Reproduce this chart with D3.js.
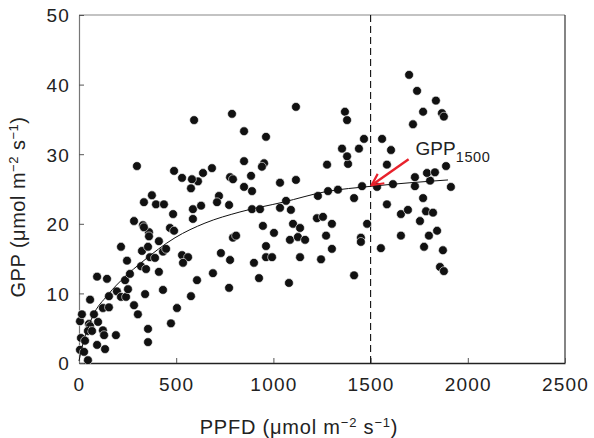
<!DOCTYPE html>
<html>
<head>
<meta charset="utf-8">
<script src="https://cdn.jsdelivr.net/npm/d3@7"></script>
<style>
  body { margin: 0; background: #fff; }
  svg { font-family: "Liberation Sans", Arial, sans-serif; }
</style>
</head>
<body>
<svg id="chart" width="594" height="438"></svg>
<script>
const ppfd = [5, 26, 46, 10, 31, 5, 15, 51, 57, 46, 67, 77, 98, 57, 93, 134, 123, 129, 190, 93,
  144, 123, 154, 154, 195, 216, 242, 252, 237, 262, 283, 303, 340, 355, 355, 432, 473, 504, 576, 607,
  319, 345, 411, 247, 216, 324, 355, 365, 391, 411, 432, 448, 530, 561, 535, 360, 360, 329, 334, 283,
  468, 489, 484, 586, 586, 628, 689, 730, 777, 772, 792, 808, 900, 926, 946, 1003, 962, 962, 993, 1080,
  1101, 1137, 1085, 1126, 1163, 1137, 1224, 1255, 1245, 1271, 1301, 1301, 1415, 1450, 1450, 1482, 1553, 1656, 1656, 1692,
  1754, 1785, 1821, 1800, 1842, 1775, 1872, 1857, 1877, 1584, 1770, 1415, 1913, 1229, 1281, 1332, 1456, 1533, 1615, 1728,
  1728, 1806, 1790, 1831, 1888, 1584, 1384, 1276, 1379, 1353, 1440, 1605, 1466, 1559, 1368, 1379, 1698, 1739, 1836, 1770,
  1867, 1877, 1718, 1116, 1116, 1034, 1065, 1034, 1090, 890, 931, 849, 890, 885, 777, 792, 849, 952, 941, 962,
  849, 787, 720, 710, 772, 684, 638, 612, 581, 576, 530, 489, 592, 298, 375, 334, 396, 437];
const gpp = [1.9, 1.6, 0.4, 3.6, 3.2, 6.0, 7.0, 5.6, 5.3, 4.6, 4.6, 7.0, 5.9, 9.1, 2.6, 2.0, 4.7, 4.0, 4.0, 12.4,
  12.1, 7.9, 9.6, 8.0, 10.3, 9.5, 9.5, 10.6, 11.9, 12.8, 8.3, 7.0, 9.9, 4.9, 3.0, 10.5, 5.7, 7.9, 9.6, 11.9,
  13.9, 13.5, 13.1, 14.7, 16.7, 16.1, 16.7, 15.2, 15.1, 17.5, 16.0, 16.4, 15.5, 15.2, 14.4, 18.8, 18.2, 19.8, 19.5, 20.4,
  19.4, 19.0, 21.4, 20.7, 22.1, 22.6, 12.9, 15.8, 14.8, 10.8, 18.0, 18.3, 14.4, 12.2, 19.7, 18.7, 16.8, 15.2, 15.2, 11.5,
  20.0, 19.4, 17.7, 18.1, 17.7, 15.2, 20.8, 21.0, 14.9, 18.3, 20.0, 16.4, 12.6, 18.0, 17.4, 20.0, 16.5, 18.3, 21.4, 22.0,
  20.4, 21.8, 21.6, 18.3, 19.0, 16.7, 16.2, 13.8, 13.2, 22.8, 23.7, 23.7, 25.3, 24.0, 24.7, 24.9, 25.4, 25.3, 25.7, 25.4,
  26.7, 26.2, 27.3, 27.4, 28.3, 28.5, 28.6, 28.5, 29.7, 30.8, 30.8, 30.6, 32.2, 32.2, 36.1, 34.9, 41.4, 39.1, 37.7, 36.1,
  35.9, 35.4, 34.3, 26.3, 36.8, 25.9, 23.3, 22.3, 22.0, 22.1, 22.1, 25.3, 24.7, 26.9, 26.7, 26.4, 29.0, 28.7, 28.2, 32.5,
  33.3, 35.8, 24.0, 23.1, 22.7, 28.0, 27.3, 26.1, 26.4, 25.1, 26.6, 27.6, 34.9, 28.3, 24.1, 23.1, 22.8, 22.8];

// fitted light-response curve, sampled from the figure
const curvePpfd = [0, 15, 67, 149, 237, 324, 494, 648, 828, 1049, 1266, 1507, 1898];
const curveGpp = [0.3, 2.2, 6.5, 9.8, 12.4, 14.5, 18.0, 20.1, 21.7, 23.1, 24.6, 25.4, 26.3];

const xTicks = [0, 500, 1000, 1500, 2000, 2500];
const yTicks = [0, 10, 20, 30, 40, 50];
const refPpfd = 1500;
const refGpp = 25.4;

const svg = d3.select("#chart");
const margin = { top: 15, right: 29, bottom: 75, left: 79 };
const width = +svg.attr("width") - margin.left - margin.right;
const height = +svg.attr("height") - margin.top - margin.bottom;

const x = d3.scaleLinear().domain([0, 2500]).range([0, width]);
const y = d3.scaleLinear().domain([0, 50]).range([height, 0]);

const g = svg.append("g")
  .attr("transform", "translate(" + margin.left + "," + margin.top + ")");

// frame
g.append("line").attr("x1", 0).attr("x2", width).attr("y1", 0).attr("y2", 0)
  .attr("stroke", "#888").attr("stroke-width", 1.2);
g.append("line").attr("x1", width).attr("x2", width).attr("y1", 0).attr("y2", height)
  .attr("stroke", "#333").attr("stroke-width", 1.2);

const xAxis = g.append("g")
  .attr("transform", "translate(0," + height + ")")
  .call(d3.axisBottom(x).tickValues(xTicks).tickFormat(d3.format("d"))
    .tickSizeInner(-5).tickSizeOuter(0).tickPadding(15));
const yAxis = g.append("g")
  .call(d3.axisLeft(y).tickValues(yTicks).tickFormat(d3.format("d"))
    .tickSizeInner(-5).tickSizeOuter(0).tickPadding(9));

xAxis.select(".domain").attr("stroke", "#222").attr("stroke-width", 1.4);
yAxis.select(".domain").attr("stroke", "#777").attr("stroke-width", 1.2);
[xAxis, yAxis].forEach(ax => {
  ax.selectAll(".tick line").attr("stroke", "#555");
  ax.selectAll(".tick text").attr("font-size", 19).attr("fill", "#222")
    .attr("letter-spacing", 1.2)
    .attr("font-family", "Liberation Sans, Arial, sans-serif");
});
yAxis.selectAll(".tick text").attr("dy", "0.36em");

// dashed reference line
g.append("line")
  .attr("x1", x(refPpfd)).attr("x2", x(refPpfd))
  .attr("y1", 0).attr("y2", height)
  .attr("stroke", "#111").attr("stroke-width", 1.1)
  .attr("stroke-dasharray", "7,4");

// points
g.selectAll(".dot")
  .data(ppfd.map((p, i) => [p, gpp[i]]))
  .enter().append("circle")
    .attr("class", "dot")
    .attr("cx", d => x(d[0]))
    .attr("cy", d => y(d[1]))
    .attr("r", 4.4)
    .attr("fill", "#111")
    .attr("stroke", "#fff")
    .attr("stroke-width", 0.6);

// fitted curve
const line = d3.line()
  .x(d => x(d[0]))
  .y(d => y(d[1]))
  .curve(d3.curveMonotoneX);
g.append("path")
  .datum(curvePpfd.map((p, i) => [p, curveGpp[i]]))
  .attr("d", line)
  .attr("fill", "none")
  .attr("stroke", "#111")
  .attr("stroke-width", 1);

// arrow annotation
svg.append("defs").append("marker")
  .attr("id", "arrow")
  .attr("viewBox", "0 0 10 10")
  .attr("refX", 9).attr("refY", 5)
  .attr("markerWidth", 6).attr("markerHeight", 6)
  .attr("orient", "auto")
  .append("path")
    .attr("d", "M1,1 L9,5 L1,9")
    .attr("fill", "none")
    .attr("stroke", "#e8212b")
    .attr("stroke-width", 1.5);

g.append("line")
  .attr("x1", x(refPpfd) + 38).attr("y1", y(refGpp) - 27)
  .attr("x2", x(refPpfd) + 1).attr("y2", y(refGpp) - 1)
  .attr("stroke", "#e8212b").attr("stroke-width", 2.4)
  .attr("marker-end", "url(#arrow)");

const lab = g.append("text")
  .attr("x", x(refPpfd) + 45).attr("y", y(refGpp) - 31)
  .attr("font-size", 19).attr("fill", "#222");
lab.append("tspan").text("GPP");
lab.append("tspan").attr("font-size", 14.5).attr("letter-spacing", 0.6).attr("dy", 7).text("1500");

// axis titles
const xt = svg.append("text")
  .attr("x", 299).attr("y", 434)
  .attr("text-anchor", "middle").attr("font-size", 20).attr("fill", "#222")
  .attr("letter-spacing", 0.8);
xt.append("tspan").text("PPFD (\u03bcmol m");
xt.append("tspan").attr("font-size", 13).attr("dy", -7).text("\u22122");
xt.append("tspan").attr("dy", 7).text(" s");
xt.append("tspan").attr("font-size", 13).attr("dy", -7).text("\u22121");
xt.append("tspan").attr("dy", 7).text(")");

const yt = svg.append("text")
  .attr("transform", "translate(25,207) rotate(-90)")
  .attr("text-anchor", "middle").attr("font-size", 20).attr("fill", "#222")
  .attr("letter-spacing", 0.5);
yt.append("tspan").text("GPP (\u03bcmol m");
yt.append("tspan").attr("font-size", 13).attr("dy", -7).text("\u22122");
yt.append("tspan").attr("dy", 7).text(" s");
yt.append("tspan").attr("font-size", 13).attr("dy", -7).text("\u22121");
yt.append("tspan").attr("dy", 7).text(")");
</script>
</body>
</html>
